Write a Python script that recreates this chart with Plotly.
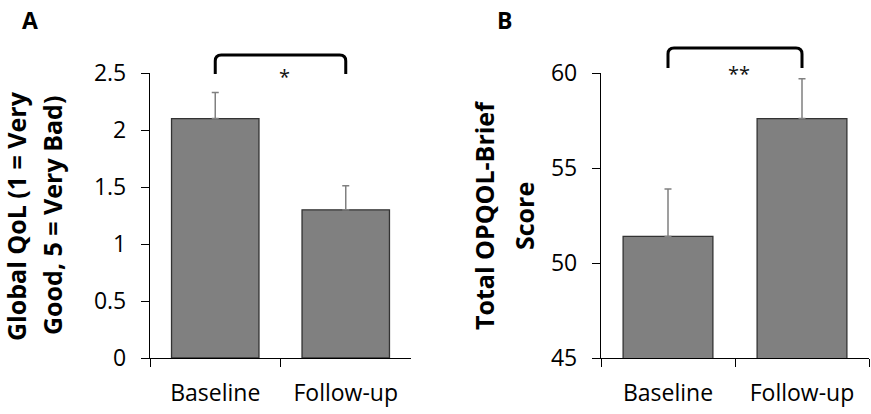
import plotly.graph_objects as go

W, H = 871, 414

categories = ["Baseline", "Follow-up"]
qol_values = [2.1, 1.3]
qol_errors = [0.23, 0.21]
opqol_values = [51.4, 57.6]
opqol_errors = [2.5, 2.1]
qol_ticks = [0, 0.5, 1, 1.5, 2, 2.5]
opqol_ticks = [45, 50, 55, 60]
sig_labels = ["*", "**"]

FONT = "Open Sans"
BAR_FILL = "#808080"
BAR_LINE = "#333333"
ERR_COLOR = "#808080"

def px_x(p):
    return p / W

def px_y(p):
    return 1 - p / H

domA = [px_x(150), px_x(411)]
domB = [px_x(601), px_x(869)]
domY = [px_y(358), px_y(73)]

fig = go.Figure()

fig.add_trace(go.Bar(
    x=categories, y=qol_values, xaxis="x", yaxis="y",
    marker=dict(color=BAR_FILL, line=dict(color=BAR_LINE, width=1.3)),
    error_y=dict(type="data", array=qol_errors, arrayminus=[0, 0], symmetric=False,
                 color=ERR_COLOR, thickness=1.5, width=3.5),
    showlegend=False, hoverinfo="skip",
))
fig.add_trace(go.Bar(
    x=categories, y=opqol_values, xaxis="x2", yaxis="y2",
    marker=dict(color=BAR_FILL, line=dict(color=BAR_LINE, width=1.3)),
    error_y=dict(type="data", array=opqol_errors, arrayminus=[0, 0], symmetric=False,
                 color=ERR_COLOR, thickness=1.5, width=3.5),
    showlegend=False, hoverinfo="skip",
))

xcommon = dict(
    showline=True, linecolor="#000", linewidth=1.3, ticks="outside", ticklen=8,
    tickcolor="#000", tickwidth=1.3, tickson="boundaries", showgrid=False,
    zeroline=False, tickfont=dict(family=FONT, size=23, color="#000"),
    ticklabelstandoff=14, fixedrange=True, automargin=False,
)
ycommon = dict(
    showline=True, linecolor="#000", linewidth=1.3, ticks="outside", ticklen=8,
    tickcolor="#000", tickwidth=1.3, showgrid=False, zeroline=False,
    tickfont=dict(family=FONT, size=23, color="#000"), ticklabelstandoff=10,
    fixedrange=True, automargin=False,
)

fig.update_layout(
    width=W, height=H, margin=dict(l=0, r=0, t=0, b=0, autoexpand=False),
    paper_bgcolor="white", plot_bgcolor="white", bargap=0.33,
    xaxis=dict(domain=domA, anchor="y", range=[-0.5, 1.5], **xcommon),
    yaxis=dict(domain=domY, anchor="x", range=[0, 2.5], tickvals=qol_ticks,
               ticktext=[f"{t:g}" for t in qol_ticks], **ycommon),
    xaxis2=dict(domain=domB, anchor="y2", range=[-0.5, 1.5], **xcommon),
    yaxis2=dict(domain=domY, anchor="x2", range=[45, 60], tickvals=opqol_ticks,
                ticktext=[str(t) for t in opqol_ticks], **ycommon),
)

def cat_center(dom, i, n=2):
    return dom[0] + (i + 0.5) / n * (dom[1] - dom[0])

def bracket(x0, x1, ytop_px, ybot_px, r=6):
    rx = r / W
    ry = r / H
    yt = px_y(ytop_px)
    yb = px_y(ybot_px)
    return (f"M {x0},{yb} L {x0},{yt - ry} Q {x0},{yt} {x0 + rx},{yt} "
            f"L {x1 - rx},{yt} Q {x1},{yt} {x1},{yt - ry} L {x1},{yb}")

shapes = []
annotations = []
for dom, ytop, ybot, ystar, lab in [(domA, 55, 74, 76, sig_labels[0]),
                                    (domB, 48, 68, 73, sig_labels[1])]:
    x0 = cat_center(dom, 0)
    x1 = cat_center(dom, 1)
    shapes.append(dict(type="path", xref="paper", yref="paper",
                       path=bracket(x0, x1, ytop, ybot),
                       line=dict(color="#000", width=3)))
    annotations.append(dict(text=lab, xref="paper", yref="paper",
                            x=(x0 + x1) / 2 + 4 / W, y=px_y(ystar),
                            xanchor="center", yanchor="middle", showarrow=False,
                            font=dict(family=FONT, size=20, color="#111")))

# panel letters
for lab, xp, yp in [("A", 30, 20), ("B", 505, 20)]:
    annotations.append(dict(text=f"<b>{lab}</b>", xref="paper", yref="paper",
                            x=px_x(xp), y=px_y(yp), xanchor="center", yanchor="middle",
                            showarrow=False, font=dict(family=FONT, size=23, color="#000")))

# y-axis titles (two lines each)
for txt, xp in [("Global QoL (1 = Very", 16), ("Good, 5 = Very Bad)", 52),
                ("Total OPQOL-Brief", 484), ("Score", 524)]:
    annotations.append(dict(text=f"<b>{txt}</b>", xref="paper", yref="paper",
                            x=px_x(xp), y=px_y(216), xanchor="center", yanchor="middle",
                            textangle=-90, showarrow=False,
                            font=dict(family=FONT, size=25, color="#000")))

fig.update_layout(shapes=shapes, annotations=annotations)

fig.write_html("out.html")
